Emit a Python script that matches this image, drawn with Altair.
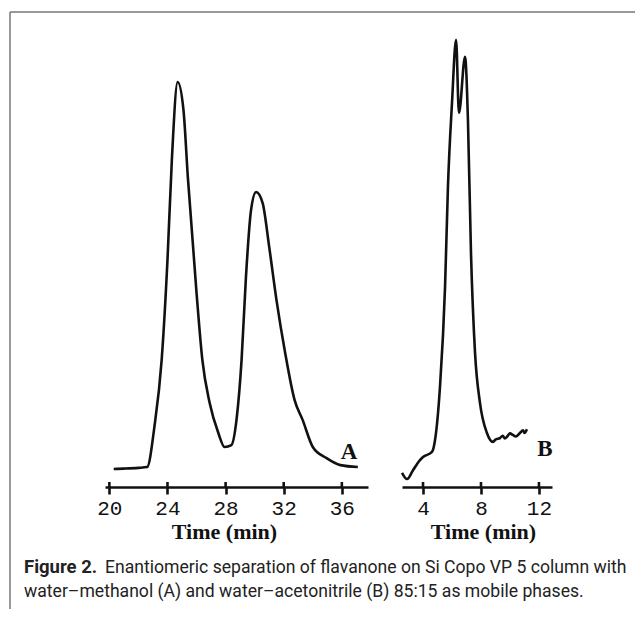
import altair as alt
import pandas as pd

# ---- data ----
# Panel A: water-methanol, time (min) and detector signal (relative units)
timeA = [20.3, 21.0, 22.0, 22.6, 23.1, 23.6, 24.0, 24.3, 24.7, 25.1, 25.4, 26.0,
         26.4, 26.9, 27.5, 27.93, 28.4, 28.75, 29.1, 29.4, 29.75, 30.1, 30.55,
         31.0, 31.5, 32.1, 32.75, 33.3, 34.0, 34.95, 35.9, 37.1]
signalA = [0.0, 0.1, 0.3, 0.5, 10.9, 28.2, 54.0, 79.8, 100.0, 92.8, 75.5, 45.5,
           28.2, 17.1, 9.3, 5.7, 6.2, 12.7, 28.2, 49.6, 66.9, 71.6, 68.7,
           57.4, 43.7, 30.0, 17.8, 12.7, 5.7, 2.8, 1.0, 0.5]

# Panel B: water-acetonitrile
timeB = [2.55, 2.9, 3.31, 3.79, 4.0, 4.62, 4.83, 5.17, 5.52, 5.72, 6.0, 6.28,
         6.48, 6.9, 7.1, 7.31, 7.59, 7.93, 8.41, 8.83, 9.0, 9.31, 9.5, 9.65,
         9.79, 10.0, 10.2, 10.4, 10.69, 10.9, 11.0, 11.17]
signalB = [-1.0, -2.6, -0.3, 2.3, 3.1, 4.4, 7.5, 21.2, 47.0, 72.9, 94.6, 110.9,
           92.0, 106.5, 90.2, 55.8, 30.0, 17.1, 9.3, 7.0, 7.6, 8.0, 8.6, 7.9,
           8.3, 9.2, 8.8, 8.4, 9.3, 10.0, 9.3, 10.3]

ticksA = [20, 24, 28, 32, 36]
ticksB = [4, 8, 12]
domainA = [19.7, 37.8]
domainB = [2.55, 12.9]
signal_domain = [-4.65, 118.1]

labelA = {"name": ["A"], "t": [36.5], "s": [4.4]}
labelB = {"name": ["B"], "t": [12.42], "s": [5.2]}

axis_title = "Time (min)"
caption_bold = "Figure 2."
caption_line1 = "Enantiomeric separation of flavanone on Si Copo VP 5 column with"
caption_line2 = "water–methanol (A) and water–acetonitrile (B) 85:15 as mobile phases."

# ---- layout ----
H = 475
WA, WB = 263, 150
INK = "#111111"


def make_axis(ticks, title_x):
    return alt.Axis(
        orient="bottom", values=ticks, title=axis_title, grid=False,
        domainColor=INK, domainWidth=2.6, tickColor=INK, tickWidth=2.6,
        tickSize=7, labelFont="Liberation Mono", labelFontSize=21,
        labelColor=INK, labelPadding=3, labelFlush=False, labelOverlap=False,
        titleFont="Liberation Serif", titleFontWeight="bold", titleFontSize=22,
        titleColor=INK, titleX=title_x, titleY=44, titleBaseline="middle",
        titleAlign="center",
    )


def panel(times, signals, dom, width, ticks, label, title_x, extras=()):
    df = pd.DataFrame({"t": times, "s": signals})
    xs = alt.Scale(domain=dom, nice=False, zero=False)
    ys = alt.Scale(domain=signal_domain, nice=False, zero=False)
    ax = make_axis(ticks, title_x)
    line = alt.Chart(df).mark_line(
        color=INK, strokeWidth=2.6, interpolate="monotone"
    ).encode(
        x=alt.X("t:Q", scale=xs, axis=ax),
        y=alt.Y("s:Q", scale=ys, axis=None),
    )
    up = alt.Chart(pd.DataFrame({"t": ticks})).mark_rule(
        color=INK, strokeWidth=2.6
    ).encode(
        x=alt.X("t:Q", scale=xs, axis=ax),
        y=alt.value(H - 5),
        y2=alt.value(H),
    )
    lab = alt.Chart(pd.DataFrame(label)).mark_text(
        font="Liberation Serif", fontWeight="bold", fontSize=23, color=INK,
        baseline="middle", align="center",
    ).encode(
        x=alt.X("t:Q", scale=xs, axis=ax),
        y=alt.Y("s:Q", scale=ys, axis=None),
        text="name:N",
    )
    return alt.layer(line, up, lab, *extras).properties(width=width, height=H)


def caption(text, x, y, size, bold=False):
    return alt.Chart(pd.DataFrame({"text": [text]})).mark_text(
        font="Roboto", fontSize=size, color="#222222", align="left",
        baseline="alphabetic", fontWeight="bold" if bold else "normal",
    ).encode(x=alt.value(x), y=alt.value(y), text="text:N")


frame_df = pd.DataFrame({"k": [0]})
frame_top = alt.Chart(frame_df).mark_rule(color="#777777", strokeWidth=1.5).encode(
    x=alt.value(-95), x2=alt.value(530), y=alt.value(0)
)
frame_left = alt.Chart(frame_df).mark_rule(color="#777777", strokeWidth=1.5).encode(
    x=alt.value(-95), y=alt.value(0), y2=alt.value(597)
)

extrasA = (
    caption(caption_bold, -81, 561, 18.5, bold=True),
    caption(caption_line1, 0, 561, 17.6),
    caption(caption_line2, -81, 585, 17.6),
    frame_top,
    frame_left,
)

panelA = panel(timeA, signalA, domainA, WA, ticksA, labelA, 119, extrasA)
panelB = panel(timeB, signalB, domainB, WB, ticksB, labelB, 81)

chart = alt.hconcat(panelA, panelB, spacing=34, bounds="flush").properties(
    padding={"left": 1, "top": 3, "right": 0, "bottom": 0}
).configure_view(strokeWidth=0)

chart.save("out.html", embed_options={"renderer": "svg", "actions": False})
